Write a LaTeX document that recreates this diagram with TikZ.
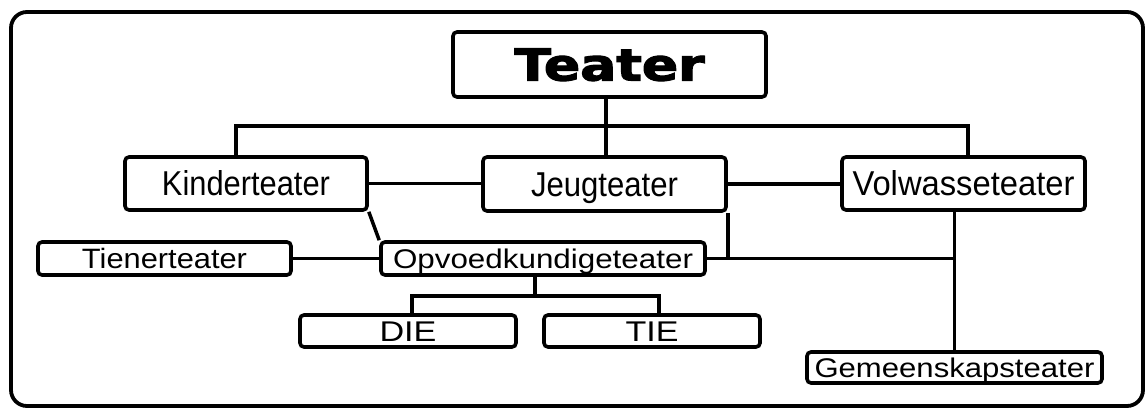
\documentclass[tikz,border=0pt]{standalone}
\usepackage{fontspec}
\usepackage{graphicx}
\setmainfont{Liberation Sans}
\newfontfamily\heavyfont[FakeBold=2.5]{DejaVu Sans Bold}
\newcommand{\boxtxt}[3]{\resizebox{#1}{\height}{\fontsize{#2}{#2}\selectfont #3}}
\begin{document}
\begin{tikzpicture}[x=1pt,y=-1pt,
  box/.style={draw, line width=3.6pt, rounded corners=4pt, inner sep=0pt, text depth=0pt, anchor=center},
  conn/.style={line width=3.5pt},
  frame/.style={draw, line width=3.8pt, rounded corners=16pt}]
\useasboundingbox (0,0) rectangle (1146,409);
\draw[frame] (11,12) rectangle (1143,406);

\node[box, minimum width=313pt, minimum height=65pt, text height=32pt] (teater) at (609.5,64.5)
  {\resizebox{190pt}{\height}{\heavyfont\fontsize{44}{44}\selectfont Teater}};
\node[box, minimum width=242pt, minimum height=53pt, text height=24.3pt] (kinder) at (246,183.5)
  {\boxtxt{168pt}{34.5}{Kinderteater}};
\node[box, minimum width=243pt, minimum height=54pt, text height=24.3pt] (jeug) at (604.5,184)
  {\boxtxt{147pt}{34.5}{Jeugteater}};
\node[box, minimum width=243pt, minimum height=53pt, text height=24.3pt] (volw) at (963.5,183.5)
  {\boxtxt{222pt}{34.5}{Volwasseteater}};
\node[box, minimum width=253pt, minimum height=33pt, text height=20pt] (tiener) at (164.5,258.5)
  {\boxtxt{165pt}{28}{Tienerteater}};
\node[box, minimum width=324pt, minimum height=33pt, text height=19pt] (opvoed) at (543,258.5)
  {\boxtxt{300pt}{27}{Opvoedkundigeteater}};
\node[box, minimum width=216pt, minimum height=32pt, text height=20pt] (die) at (408,331)
  {\boxtxt{57pt}{28.5}{DIE}};
\node[box, minimum width=216pt, minimum height=32pt, text height=20pt] (tie) at (652,331)
  {\boxtxt{53pt}{28.5}{TIE}};
\node[box, minimum width=295pt, minimum height=31pt, text height=19pt] (gemeen) at (954.5,367.5)
  {\boxtxt{280pt}{27}{Gemeenskapsteater}};

\coordinate (stem) at (606,0);
\coordinate (busL) at (236,126);
\coordinate (busR) at (968,126);
\coordinate (ostem) at (535,296);
\coordinate (dbus) at (412,296);
\coordinate (tbus) at (659,296);

\draw[conn] (teater.south -| stem) -- (jeug.north -| stem);
\draw[conn] (kinder.north -| busL) -- (busL) -- (busR) -- (volw.north -| busR);
\draw[conn] (kinder.east) -- (kinder.east -| jeug.west);
\draw[conn] (jeug.east) -- (jeug.east -| volw.west);
\draw[conn] (kinder.south east) -- (opvoed.north west);
\draw[conn] (tiener.east) -- (tiener.east -| opvoed.west);
\draw[conn] (opvoed.east) -- (opvoed.east -| gemeen.north);
\draw[conn] (jeug.south east) -- (jeug.south east |- opvoed.east);
\draw[conn] (volw.south -| gemeen.north) -- (gemeen.north);
\draw[conn] (opvoed.south -| ostem) -- (ostem);
\draw[conn] (die.north -| dbus) -- (dbus) -- (tbus) -- (tie.north -| tbus);
\end{tikzpicture}
\end{document}
